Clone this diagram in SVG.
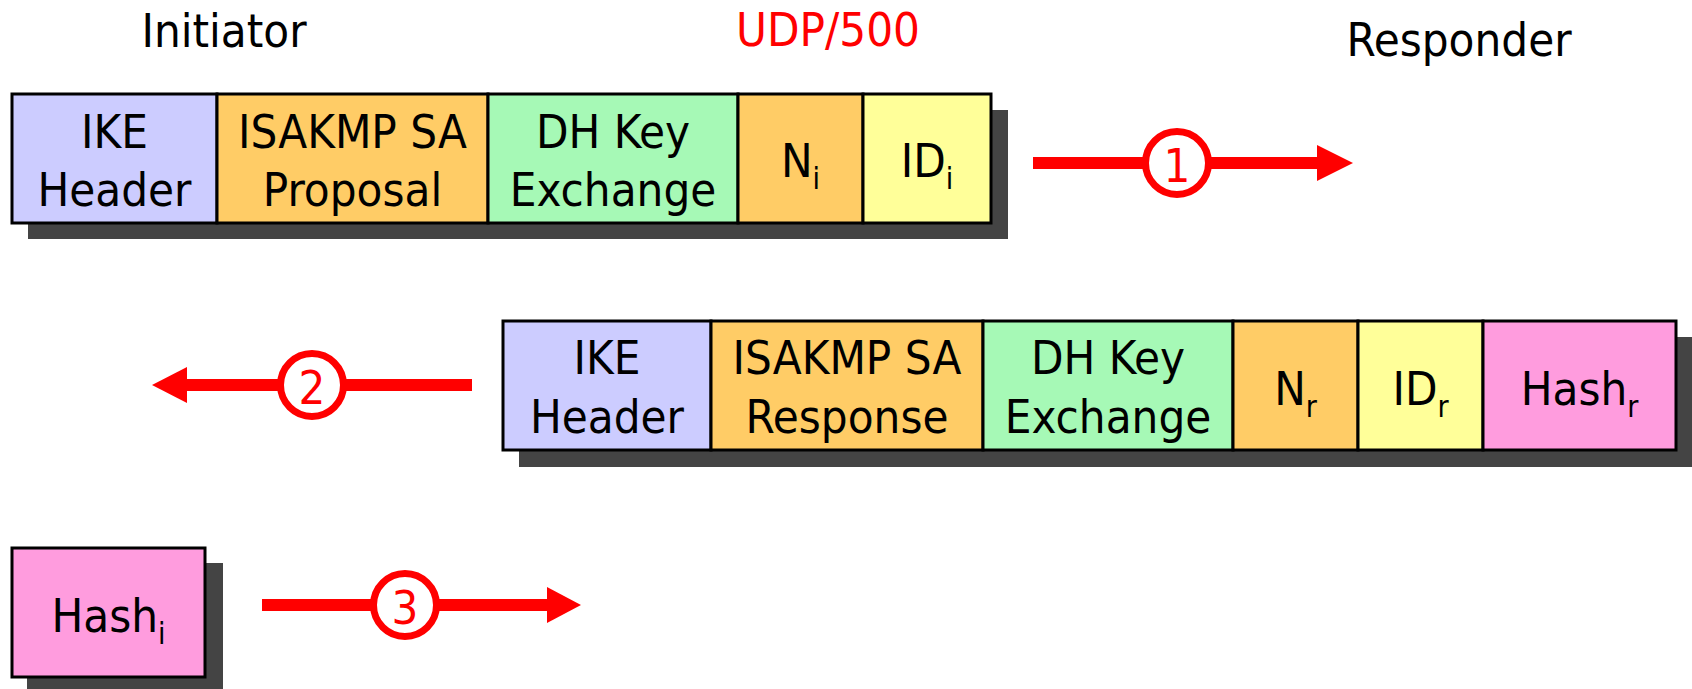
<svg xmlns="http://www.w3.org/2000/svg" width="1692" height="689" viewBox="0 0 1692 689">
  <style>
    .lbl { font-family: "DejaVu Sans Condensed", "DejaVu Sans", Tahoma, sans-serif; font-size: 47px; fill: #000; text-anchor: middle; }
    .sub { font-size: 30px; }
    .red { fill: #ff0000; }
    .shadow { fill: #444444; }
    .cell { stroke: #000; stroke-width: 3; }
    .ike { fill: #ccccff; }
    .sa { fill: #ffcc66; }
    .dh { fill: #a6f9b6; }
    .id { fill: #ffff99; }
    .hash { fill: #ff9cde; }
    .wire { stroke: #ff0000; stroke-width: 12; fill: none; }
    .head { fill: #ff0000; }
    .badge { fill: #fff; stroke: #ff0000; stroke-width: 7; }
  </style>

  <!-- titles -->
  <g id="titles">
    <text class="lbl" x="224" y="47">Initiator</text>
    <text class="lbl red" x="828" y="46">UDP/500</text>
    <text class="lbl" x="1459" y="56">Responder</text>
  </g>

  <!-- message 1: initiator to responder -->
  <g id="msg1">
    <rect class="shadow" x="28" y="110" width="980" height="129"/>
    <g id="m1-ike"><rect class="cell ike" x="12" y="94" width="205" height="129"/>
      <text class="lbl" x="114.5" y="148">IKE</text><text class="lbl" x="114.5" y="206">Header</text></g>
    <g id="m1-sa"><rect class="cell sa" x="217" y="94" width="271" height="129"/>
      <text class="lbl" x="352.5" y="148">ISAKMP SA</text><text class="lbl" x="352.5" y="206">Proposal</text></g>
    <g id="m1-dh"><rect class="cell dh" x="488" y="94" width="250" height="129"/>
      <text class="lbl" x="613" y="148">DH Key</text><text class="lbl" x="613" y="206">Exchange</text></g>
    <g id="m1-nonce"><rect class="cell sa" x="738" y="94" width="125" height="129"/>
      <text class="lbl" x="800.5" y="177">N<tspan class="sub" dy="12">i</tspan></text></g>
    <g id="m1-id"><rect class="cell id" x="863" y="94" width="128" height="129"/>
      <text class="lbl" x="927" y="177">ID<tspan class="sub" dy="12">i</tspan></text></g>
  </g>

  <!-- message 2: responder to initiator -->
  <g id="msg2">
    <rect class="shadow" x="519" y="337" width="1173" height="130"/>
    <g id="m2-ike"><rect class="cell ike" x="503" y="321" width="208" height="129"/>
      <text class="lbl" x="607" y="374">IKE</text><text class="lbl" x="607" y="433">Header</text></g>
    <g id="m2-sa"><rect class="cell sa" x="711" y="321" width="272" height="129"/>
      <text class="lbl" x="847" y="374">ISAKMP SA</text><text class="lbl" x="847" y="433">Response</text></g>
    <g id="m2-dh"><rect class="cell dh" x="983" y="321" width="250" height="129"/>
      <text class="lbl" x="1108" y="374">DH Key</text><text class="lbl" x="1108" y="433">Exchange</text></g>
    <g id="m2-nonce"><rect class="cell sa" x="1233" y="321" width="125" height="129"/>
      <text class="lbl" x="1295.5" y="405">N<tspan class="sub" dy="12">r</tspan></text></g>
    <g id="m2-id"><rect class="cell id" x="1358" y="321" width="125" height="129"/>
      <text class="lbl" x="1420.5" y="405">ID<tspan class="sub" dy="12">r</tspan></text></g>
    <g id="m2-hash"><rect class="cell hash" x="1483" y="321" width="193" height="129"/>
      <text class="lbl" x="1579.5" y="405">Hash<tspan class="sub" dy="12">r</tspan></text></g>
  </g>

  <!-- message 3: initiator to responder -->
  <g id="msg3">
    <rect class="shadow" x="27" y="563" width="196" height="129"/>
    <g id="m3-hash"><rect class="cell hash" x="12" y="548" width="193" height="129"/>
      <text class="lbl" x="108.5" y="632">Hash<tspan class="sub" dy="12">i</tspan></text></g>
  </g>

  <!-- direction arrows with step badges -->
  <g id="connectors">
    <g id="arrow1">
      <line class="wire" x1="1033" y1="163" x2="1318" y2="163"/>
      <polygon class="head" points="1317,145 1353,163 1317,181"/>
      <circle class="badge" cx="1177" cy="163" r="31.5"/>
      <text class="lbl red" x="1177" y="182">1</text>
    </g>
    <g id="arrow2">
      <line class="wire" x1="472" y1="385" x2="186" y2="385"/>
      <polygon class="head" points="187,367 152,385 187,403"/>
      <circle class="badge" cx="312" cy="385" r="31.5"/>
      <text class="lbl red" x="312" y="404">2</text>
    </g>
    <g id="arrow3">
      <line class="wire" x1="262" y1="605" x2="548" y2="605"/>
      <polygon class="head" points="547,587 581,605 547,623"/>
      <circle class="badge" cx="405" cy="605" r="31.5"/>
      <text class="lbl red" x="405" y="624">3</text>
    </g>
  </g>
</svg>
